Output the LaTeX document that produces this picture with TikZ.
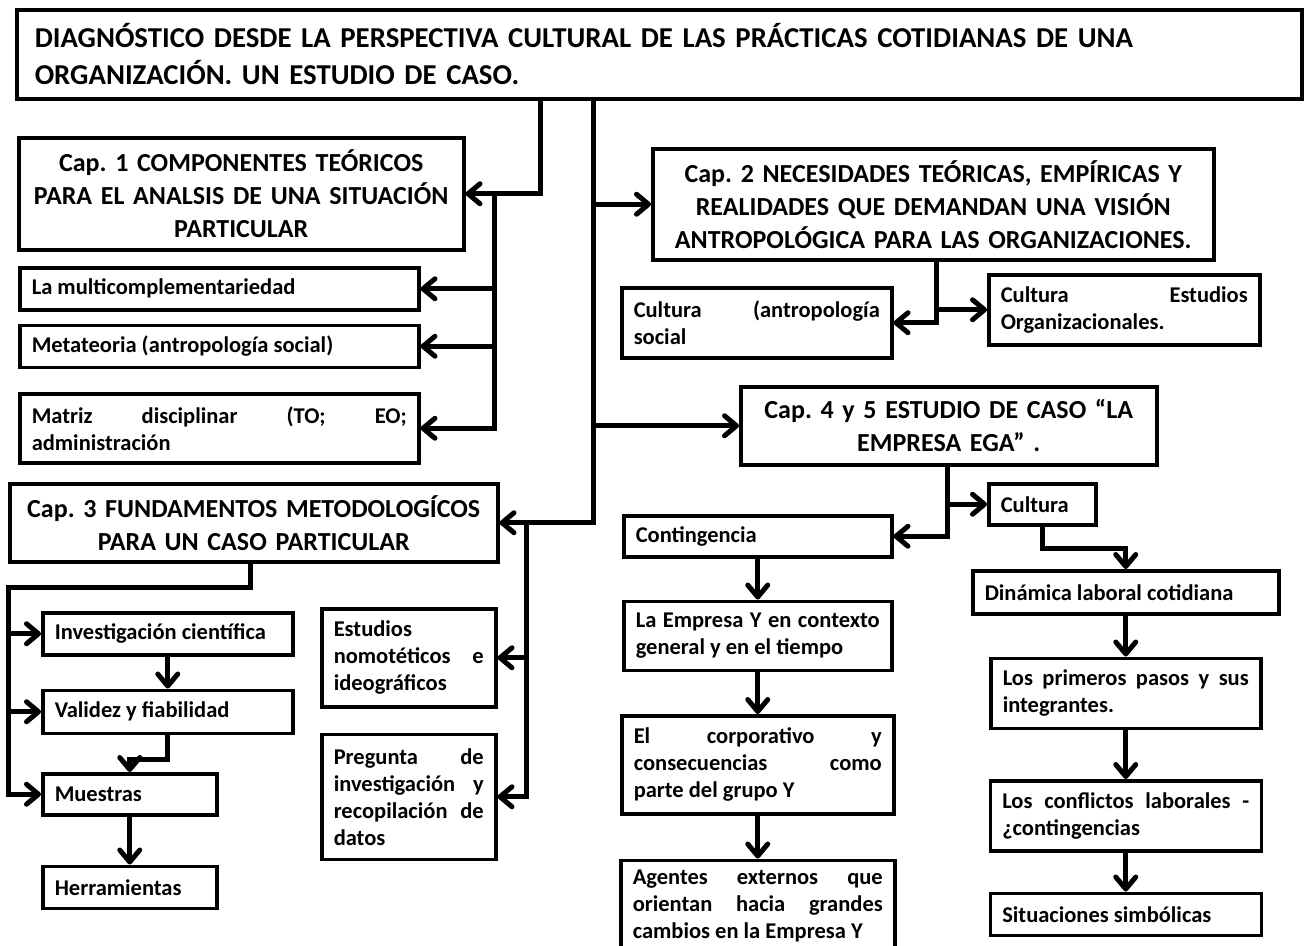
\documentclass[tikz,border=0pt]{standalone}
\usepackage{fontspec}
\setmainfont{Carlito}
\frenchspacing
\usetikzlibrary{positioning,arrows.meta}
\tikzset{
  box/.style    = {draw, line width=3.5pt, anchor=north west, inner xsep=12pt, inner ysep=3pt,
                   align=justify, font=\fontsize{22.5}{27}\selectfont\bfseries},
  capbox/.style = {box, align=center, font=\fontsize{26}{33}\selectfont\bfseries},
  flow/.style   = {-{Straight Barb[length=12pt,width=20pt,round]}, line width=5pt},
}

\begin{document}
\begin{tikzpicture}[x=1pt, y=-1pt]
  \useasboundingbox (0,0) rectangle (1316,945);

  % main title and chapters
  \node[box, align=left, inner xsep=18pt, text width=1249pt, minimum height=89pt,
        font=\fontsize{28.8}{37}\selectfont\bfseries] (title) at (15,8)
    {DIAGNÓSTICO DESDE LA PERSPECTIVA CULTURAL DE LAS PRÁCTICAS COTIDIANAS DE UNA\\
     ORGANIZACIÓN. UN ESTUDIO DE CASO.};
  \node[capbox, text width=421pt, minimum height=112pt] (cap1) at (17,136)
    {Cap. 1 COMPONENTES TEÓRICOS\\ PARA EL ANALSIS DE UNA SITUACIÓN\\ PARTICULAR};
  \node[capbox, text width=537pt, minimum height=111pt] (cap2) at (651,147)
    {Cap. 2 NECESIDADES TEÓRICAS, EMPÍRICAS Y\\ REALIDADES QUE DEMANDAN UNA VISIÓN\\ ANTROPOLÓGICA PARA LAS ORGANIZACIONES.};
  \node[capbox, text width=464pt, minimum height=78pt] (cap3) at (8,482)
    {Cap. 3 FUNDAMENTOS METODOLOGÍCOS\\ PARA UN CASO PARTICULAR};
  \node[capbox, text width=392pt, minimum height=78pt] (cap4) at (739,385)
    {Cap. 4 y 5 ESTUDIO DE CASO “LA\\ EMPRESA EGA” .};

  % cap. 1
  \node[box, text width=375pt, minimum height=42pt] (multi) at (18,266) {La multicomplementariedad};
  \node[box, text width=375pt, minimum height=42pt, below=12pt of multi] (meta) {Metateoria (antropología social)};
  \node[box, text width=375pt, minimum height=69pt, below=23pt of meta] (matriz)
    {Matriz disciplinar (TO; EO;\linebreak administración};

  % cap. 2
  \node[box, text width=246pt, minimum height=70pt] (cultA) at (620,286)
    {Cultura (antropología\linebreak social};
  \node[box, text width=247pt, minimum height=70pt] (cultE) at (987,273)
    {Cultura Estudios\linebreak Organizacionales.};

  % cap. 3
  \node[box, text width=226pt, minimum height=42pt] (inv) at (41,611) {Investigación científica};
  \node[box, text width=226pt, minimum height=43pt, below=32pt of inv] (val) {Validez y fiabilidad};
  \node[box, text width=150pt, minimum height=41pt] (muest) at (41,772) {Muestras};
  \node[box, text width=150pt, minimum height=42pt, below=48pt of muest] (herr) {Herramientas};
  \node[box, text width=150pt, minimum height=98pt] (estud) at (320,607)
    {Estudios\newline nomotéticos e\linebreak ideográficos};
  \node[box, text width=150pt, minimum height=125pt, below=24pt of estud] (preg)
    {Pregunta de\linebreak investigación y\linebreak recopilación de\linebreak datos};

  % cap. 4 y 5
  \node[box, text width=244pt, minimum height=41pt] (cont) at (622,514) {Contingencia};
  \node[box, text width=244pt, minimum height=69pt, below=41pt of cont] (emp)
    {La Empresa Y en contexto\linebreak general y en el tiempo};
  \node[box, text width=248pt, minimum height=98pt, below=42pt of emp] (corp)
    {El corporativo y\linebreak consecuencias como\linebreak parte del grupo Y};
  \node[box, text width=250pt, minimum height=92pt, below=43pt of corp] (agen)
    {Agentes externos que\linebreak orientan hacia grandes\linebreak cambios en la Empresa Y};
  \node[box, text width=83pt, minimum height=41pt] (cult) at (987,482) {Cultura};
  \node[box, text width=282pt, minimum height=43pt] (din) at (971,569) {Dinámica laboral cotidiana};
  \node[box, text width=246pt, minimum height=70pt, below=41pt of din] (prim)
    {Los primeros pasos y sus\linebreak integrantes.};
  \node[box, text width=247pt, minimum height=70pt, below=49pt of prim] (conf)
    {Los conflictos laborales -\linebreak ¿contingencias};
  \node[box, text width=247pt, minimum height=42pt, below=39pt of conf] (sit) {Situaciones simbólicas};

  % branch points
  \coordinate (b1) at (540,193);
  \coordinate (b2) at (494,193);
  \coordinate (b3) at (593,0);
  \coordinate (b4) at (526,520);
  \coordinate (b5) at (250,587);
  \coordinate (b6) at (8,587);
  \coordinate (b7) at (936,0);
  \coordinate (b8) at (947,0);

  \draw[flow] (title.south -| b1) |- (cap1.east);
  \draw[flow] (b2) |- (multi.east);
  \draw[flow] (b2) |- (meta.east);
  \draw[flow] (b2) |- (matriz.east);

  \draw[flow] (title.south -| b3) |- (cap3.east);
  \draw[flow] (cap2.west -| b3) -- (cap2.west);
  \draw[flow] (cap4.west -| b3) -- (cap4.west);
  \draw[flow] (b4) |- (estud.east);
  \draw[flow] (b4) |- (preg.east);

  \draw[flow] (cap3.south -| b5) |- (b6) |- (muest.west);
  \draw[flow] (b6) |- (inv.west);
  \draw[flow] (b6) |- (val.west);
  \draw[flow] (inv) -- (val);
  \draw[flow] (val.south) -- ++(0,24) -| (muest.north);
  \draw[flow] (muest) -- (herr);

  \draw[flow] (cap2.south -| b7) |- (cultA.east);
  \draw[flow] (cultE.west -| b7) -- (cultE.west);

  \draw[flow] (cap4.south -| b8) |- (cont.east);
  \draw[flow] (cult.west -| b8) -- (cult.west);
  \draw[flow] (cult.south) -- ++(0,22) -| (din.north);
  \draw[flow] (cont) -- (emp);
  \draw[flow] (emp) -- (corp);
  \draw[flow] (corp) -- (agen);
  \draw[flow] (din) -- (prim);
  \draw[flow] (prim) -- (conf);
  \draw[flow] (conf) -- (sit);
\end{tikzpicture}
\end{document}
